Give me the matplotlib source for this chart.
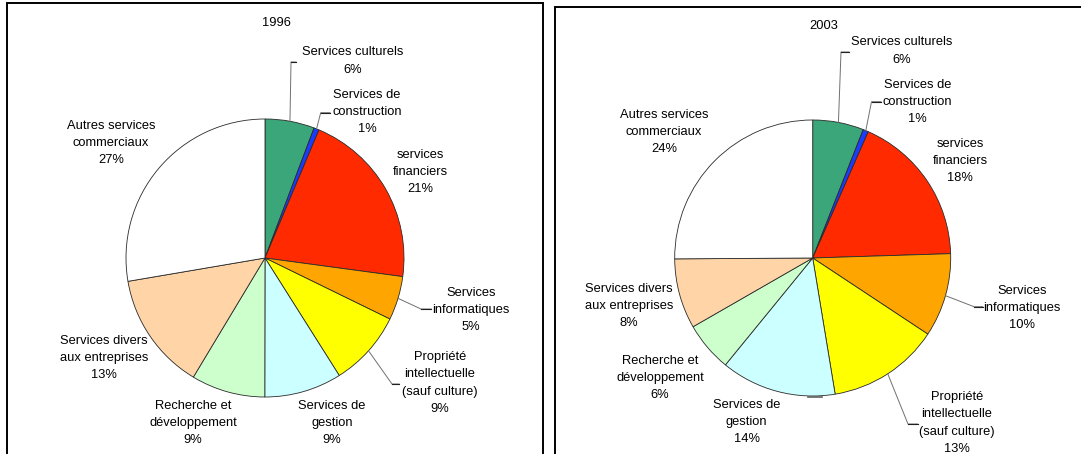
import numpy as np
import matplotlib
matplotlib.use('Agg')
import matplotlib.pyplot as plt
from matplotlib.patches import Rectangle

plt.rcParams['font.family'] = ['Liberation Sans', 'DejaVu Sans']

W, H = 1081, 454

# secteurs dans l'ordre du camembert (sens horaire depuis midi)
secteurs = ['Services culturels', 'Services de\nconstruction', 'services\nfinanciers',
            'Services\ninformatiques', 'Propriété\nintellectuelle\n(sauf culture)',
            'Services de\ngestion', 'Recherche et\ndéveloppement',
            'Services divers\naux entreprises', 'Autres services\ncommerciaux']
couleurs = ['#3BA67A', '#1A3CFF', '#FF2A00', '#FFA500', '#FFFF00',
            '#CCFFFF', '#CCFFCC', '#FFD5A8', '#FFFFFF']

# parts (%), et pourcentages affichés
parts_1996 = [5.75, 0.6, 20.8, 5.1, 8.8, 9.0, 8.6, 13.7, 27.7]
pct_1996 = [6, 1, 21, 5, 9, 9, 9, 13, 27]
parts_2003 = [5.97, 0.63, 17.9, 9.8, 13.1, 13.5, 5.8, 8.2, 25.1]
pct_2003 = [6, 1, 18, 10, 13, 14, 6, 8, 24]


def Y(y):
    # coordonnées pixel (origine en haut) -> données
    return H - y


fig = plt.figure(figsize=(W / 100, H / 100), dpi=100)
ax = fig.add_axes([0, 0, 1, 1])

# cadres des deux graphiques
ax.add_patch(Rectangle((7, Y(470)), 536, 467, fill=False, lw=1.4, ec='black'))
ax.add_patch(Rectangle((555, Y(470)), 560, 463, fill=False, lw=1.4, ec='black'))

panneaux = [
    dict(titre='1996', parts=parts_1996, pct=pct_1996, c=(265, 258), r=139,
         tpos=(276, 23),
         lpos=[(353, 61), (367, 112), (420, 172), (471, 310), (440, 383),
               (332, 423), (193, 423), (104, 358), (111, 143)],
         leaders={0: [(291, 62), (296, 62)], 1: [(320.7, 112.7), (330, 112.7)],
                  3: [(421, 309), (431, 309)], 4: [(392, 384), (399, 384)]}),
    dict(titre='2003', parts=parts_2003, pct=pct_2003, c=(812.7, 258), r=138,
         tpos=(823.6, 26),
         lpos=[(902, 51), (917.6, 102), (960, 161), (1022, 308), (957, 423),
               (746.7, 422), (660, 378), (628.8, 306), (664, 132)],
         leaders={0: [(841, 52), (849, 52)], 1: [(871.5, 101.7), (881, 101.7)],
                  3: [(974, 306.7), (982.6, 306.7)], 4: [(908, 424), (917.6, 424)]}),
]

for p in panneaux:
    cx, cy = p['c']
    wedges, _ = ax.pie(p['parts'], colors=couleurs, startangle=90, counterclock=False,
                       center=(cx, Y(cy)), radius=p['r'], normalize=True,
                       wedgeprops=dict(edgecolor='#2a2a2a', linewidth=0.6))
    ax.text(p['tpos'][0], Y(p['tpos'][1]), p['titre'], ha='center', va='center',
            fontsize=9.3)
    for i, (nom, pc) in enumerate(zip(secteurs, p['pct'])):
        x, y = p['lpos'][i]
        ax.text(x, Y(y), '%s\n%d%%' % (nom, pc), ha='center', va='center',
                fontsize=9.3, linespacing=1.58)
    for i, pts in p['leaders'].items():
        w = wedges[i]
        a = np.deg2rad((w.theta1 + w.theta2) / 2)
        x0 = cx + p['r'] * np.cos(a)
        y0 = Y(cy) + p['r'] * np.sin(a)
        xs = [x0] + [q[0] for q in pts]
        ys = [y0] + [Y(q[1]) for q in pts]
        ax.plot(xs, ys, color='#707070', lw=0.7)
        ax.plot(xs[-2:], ys[-2:], color='#202020', lw=0.8)

# petit trait sous "Services de gestion" (2003)
ax.plot([808, 822], [Y(397), Y(397)], color='#606060', lw=1.2)

ax.set_aspect('auto')
ax.set_xlim(0, W)
ax.set_ylim(0, H)
ax.axis('off')

fig.savefig('out.png', dpi=100)
